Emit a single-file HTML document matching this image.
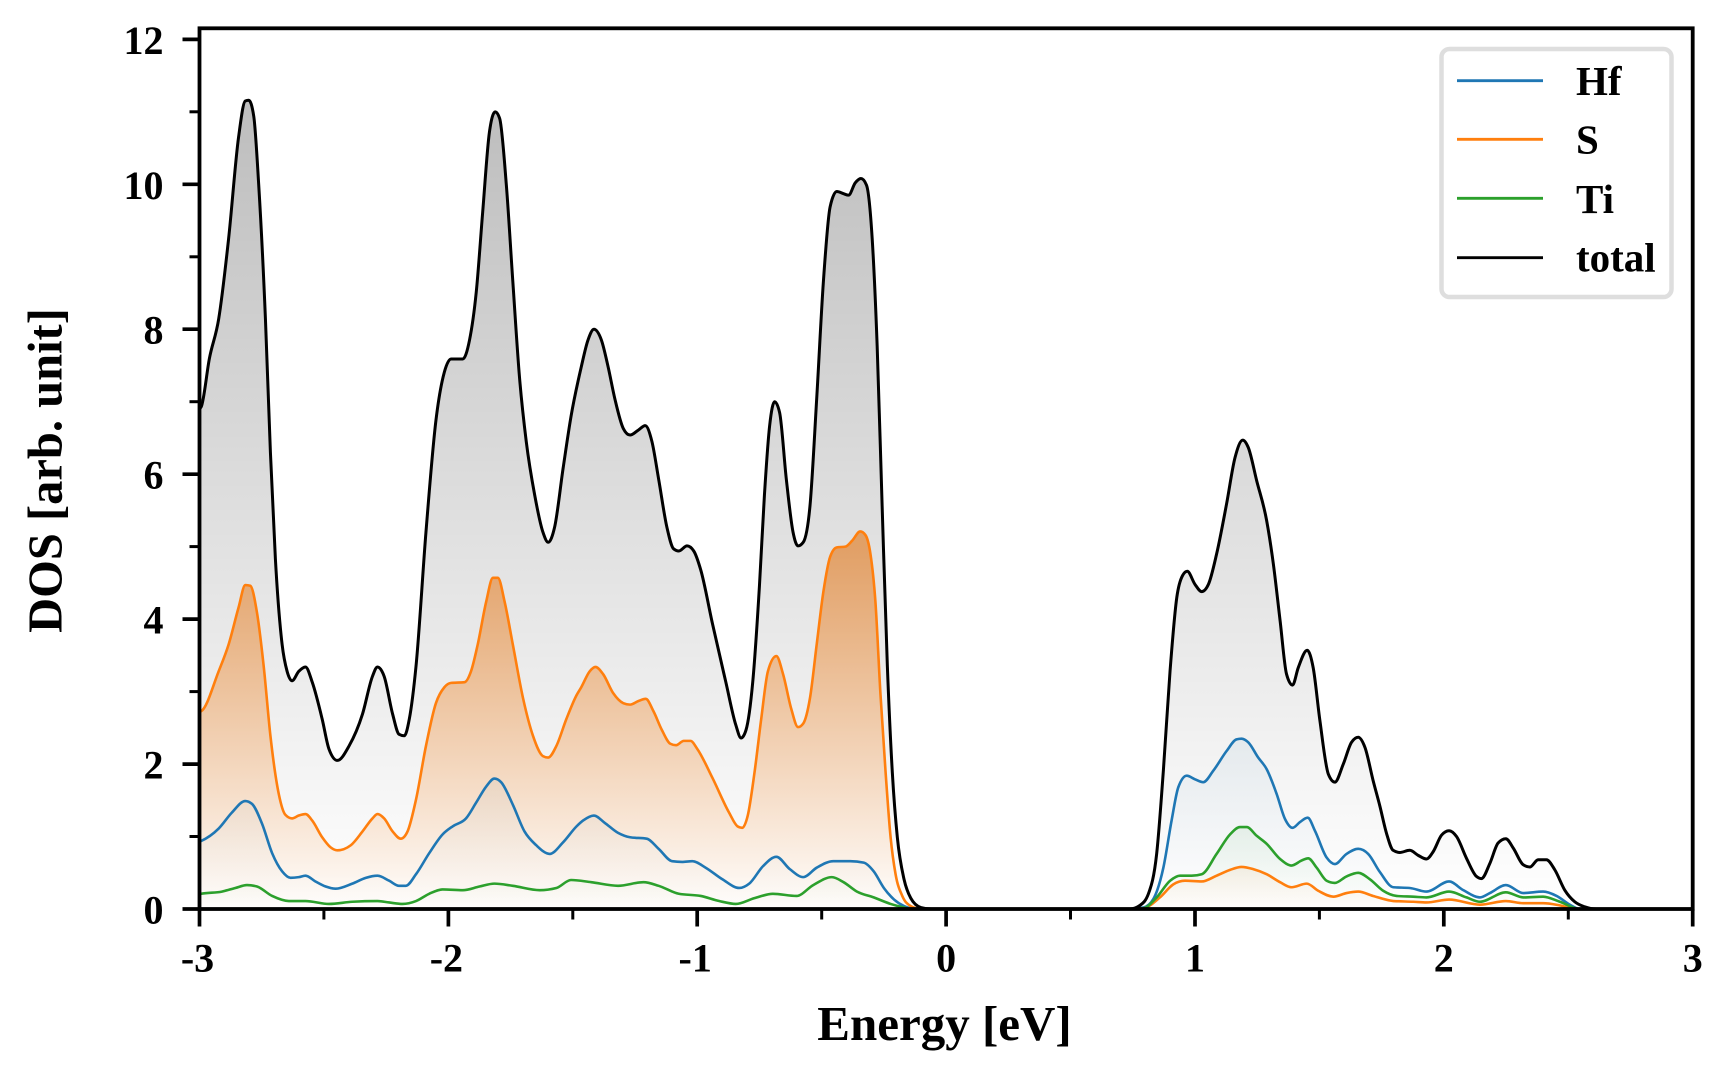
<!DOCTYPE html>
<html>
<head>
<meta charset="utf-8">
<style>
html,body{margin:0;padding:0;background:#fff;}
svg{display:block;}
text{font-family:"Liberation Serif","Times New Roman",serif;font-weight:bold;fill:#000;}
</style>
</head>
<body>
<svg width="1728" height="1080" viewBox="0 0 1728 1080" xmlns="http://www.w3.org/2000/svg">
<defs>
<linearGradient id="gT" gradientUnits="userSpaceOnUse" x1="0" y1="0" x2="0" y2="11">
<stop offset="0" stop-color="#000" stop-opacity="0"/>
<stop offset="1" stop-color="#000" stop-opacity="0.255"/>
</linearGradient>
<linearGradient id="gS" gradientUnits="userSpaceOnUse" x1="0" y1="0" x2="0" y2="5">
<stop offset="0" stop-color="#ff7f0e" stop-opacity="0.01"/>
<stop offset="1" stop-color="#ff7f0e" stop-opacity="0.58"/>
</linearGradient>
<linearGradient id="gH" gradientUnits="userSpaceOnUse" x1="0" y1="0" x2="0" y2="2.35">
<stop offset="0" stop-color="#1f77b4" stop-opacity="0"/>
<stop offset="1" stop-color="#1f77b4" stop-opacity="0.06"/>
</linearGradient>
<linearGradient id="gG" gradientUnits="userSpaceOnUse" x1="0" y1="0" x2="0" y2="1.13">
<stop offset="0" stop-color="#2ca02c" stop-opacity="0"/>
<stop offset="1" stop-color="#2ca02c" stop-opacity="0.07"/>
</linearGradient>
</defs>

<rect x="0" y="0" width="1728" height="1080" fill="#fff"/>

<g transform="translate(946.1,909) scale(248.87,-72.47)">
<!-- partial fills -->
<path id="fS" fill="url(#gS)" d="M-3,0 -3,2.72 -2.993,2.73 -2.923,3.28 -2.883,3.65 -2.843,4.16 -2.816,4.47 -2.796,4.46 -2.769,4.09 -2.742,3.35 -2.715,2.39 -2.681,1.58 -2.655,1.3 -2.628,1.25 -2.601,1.29 -2.574,1.31 -2.547,1.22 -2.507,0.99 -2.473,0.85 -2.446,0.81 -2.392,0.88 -2.345,1.07 -2.305,1.25 -2.285,1.31 -2.258,1.25 -2.224,1.07 -2.191,0.97 -2.164,1.07 -2.13,1.51 -2.09,2.25 -2.05,2.84 -2.016,3.06 -1.989,3.12 -1.935,3.13 -1.909,3.28 -1.882,3.65 -1.848,4.24 -1.821,4.57 -1.801,4.57 -1.774,4.24 -1.741,3.65 -1.7,2.91 -1.66,2.39 -1.62,2.11 -1.599,2.09 -1.566,2.25 -1.526,2.62 -1.485,2.95 -1.466,3.06 -1.432,3.28 -1.409,3.34 -1.378,3.24 -1.338,2.98 -1.297,2.84 -1.27,2.82 -1.236,2.87 -1.207,2.9 -1.176,2.73 -1.142,2.47 -1.108,2.28 -1.085,2.26 -1.054,2.32 -1.027,2.32 -1,2.21 -0.939,1.81 -0.872,1.33 -0.838,1.14 -0.82,1.12 -0.797,1.29 -0.77,1.88 -0.743,2.62 -0.716,3.28 -0.682,3.49 -0.655,3.24 -0.622,2.76 -0.595,2.51 -0.574,2.56 -0.547,2.91 -0.52,3.65 -0.493,4.38 -0.466,4.86 -0.439,4.99 -0.405,5 -0.378,5.08 -0.345,5.21 -0.324,5.16 -0.304,4.9 -0.284,4.24 -0.264,2.98 -0.243,1.88 -0.223,0.99 -0.203,0.48 -0.176,0.18 -0.142,0.04 -0.1,0 0.74,0 0.792,0.01 0.859,0.16 0.913,0.34 0.96,0.39 1.027,0.38 1.087,0.46 1.141,0.54 1.187,0.58 1.234,0.55 1.288,0.48 1.342,0.37 1.388,0.3 1.449,0.35 1.496,0.25 1.556,0.17 1.609,0.22 1.656,0.24 1.716,0.18 1.797,0.11 1.877,0.1 1.93,0.09 2.021,0.13 2.145,0.06 2.249,0.11 2.319,0.08 2.399,0.08 2.466,0.05 2.533,0 3,0Z"/>
<path id="fH" fill="url(#gH)" d="M-3,0 -3,0.93 -2.993,0.94 -2.923,1.11 -2.87,1.33 -2.816,1.49 -2.789,1.45 -2.749,1.18 -2.708,0.77 -2.668,0.52 -2.634,0.43 -2.601,0.44 -2.574,0.46 -2.534,0.38 -2.493,0.31 -2.453,0.28 -2.386,0.35 -2.332,0.43 -2.285,0.46 -2.238,0.39 -2.198,0.32 -2.171,0.32 -2.13,0.48 -2.077,0.77 -2.023,1.03 -1.983,1.14 -1.929,1.25 -1.888,1.47 -1.848,1.69 -1.815,1.8 -1.788,1.75 -1.741,1.44 -1.694,1.07 -1.647,0.88 -1.593,0.76 -1.539,0.92 -1.485,1.14 -1.459,1.22 -1.415,1.29 -1.372,1.19 -1.318,1.05 -1.27,0.99 -1.203,0.97 -1.155,0.83 -1.101,0.66 -1.061,0.65 -1.02,0.66 -0.966,0.57 -0.899,0.41 -0.831,0.29 -0.791,0.35 -0.736,0.59 -0.682,0.72 -0.628,0.55 -0.574,0.44 -0.52,0.57 -0.453,0.66 -0.385,0.66 -0.331,0.64 -0.291,0.52 -0.25,0.29 -0.209,0.13 -0.169,0.04 -0.12,0 0.739,0 0.792,0.02 0.833,0.14 0.873,0.57 0.906,1.22 0.933,1.68 0.967,1.84 1,1.79 1.033,1.75 1.074,1.91 1.127,2.18 1.167,2.34 1.187,2.35 1.214,2.3 1.254,2.09 1.288,1.93 1.328,1.59 1.362,1.24 1.392,1.12 1.422,1.2 1.453,1.26 1.482,1.08 1.529,0.71 1.562,0.62 1.609,0.76 1.656,0.83 1.696,0.76 1.743,0.51 1.797,0.3 1.863,0.29 1.93,0.24 2.021,0.38 2.078,0.26 2.145,0.16 2.185,0.22 2.249,0.33 2.319,0.22 2.399,0.24 2.453,0.18 2.506,0.06 2.546,0 3,0Z"/>
<path id="fG" fill="url(#gG)" d="M-3,0 -3,0.2 -2.993,0.21 -2.91,0.24 -2.856,0.29 -2.809,0.33 -2.769,0.31 -2.708,0.18 -2.641,0.11 -2.574,0.11 -2.48,0.07 -2.386,0.1 -2.285,0.11 -2.238,0.09 -2.184,0.07 -2.13,0.11 -2.077,0.21 -2.023,0.27 -1.942,0.26 -1.875,0.31 -1.815,0.35 -1.741,0.32 -1.633,0.26 -1.566,0.29 -1.507,0.4 -1.426,0.37 -1.318,0.32 -1.216,0.37 -1.155,0.32 -1.074,0.21 -0.986,0.18 -0.912,0.11 -0.845,0.07 -0.77,0.15 -0.696,0.21 -0.601,0.18 -0.534,0.33 -0.459,0.44 -0.412,0.37 -0.358,0.24 -0.291,0.16 -0.223,0.07 -0.169,0.02 -0.14,0 0.74,0 0.792,0.01 0.846,0.16 0.9,0.39 0.94,0.46 0.987,0.46 1.027,0.48 1.087,0.76 1.141,1.03 1.181,1.13 1.208,1.13 1.248,1.01 1.288,0.9 1.342,0.69 1.388,0.6 1.429,0.67 1.455,0.7 1.489,0.57 1.529,0.39 1.562,0.36 1.609,0.45 1.656,0.5 1.703,0.41 1.757,0.25 1.81,0.18 1.877,0.17 1.93,0.16 2.021,0.24 2.091,0.16 2.145,0.1 2.249,0.23 2.319,0.16 2.399,0.17 2.466,0.1 2.546,0 3,0Z"/>
<!-- total fill -->
<path id="fT" fill="url(#gT)" d="M-3,0 -3,6.9 -2.993,6.93 -2.96,7.6 -2.923,8.14 -2.883,9.25 -2.843,10.65 -2.816,11.15 -2.802,11.16 -2.782,10.94 -2.762,9.99 -2.735,8.14 -2.715,6.3 -2.695,4.83 -2.668,3.65 -2.648,3.28 -2.628,3.15 -2.601,3.28 -2.574,3.34 -2.547,3.13 -2.507,2.62 -2.48,2.21 -2.446,2.05 -2.399,2.25 -2.345,2.69 -2.305,3.21 -2.285,3.34 -2.258,3.21 -2.224,2.69 -2.198,2.41 -2.177,2.39 -2.157,2.62 -2.13,3.35 -2.09,5.2 -2.05,6.74 -2.016,7.41 -1.989,7.59 -1.942,7.59 -1.915,7.85 -1.888,8.51 -1.862,9.62 -1.835,10.72 -1.812,11 -1.794,10.91 -1.767,9.99 -1.741,8.66 -1.714,7.33 -1.687,6.45 -1.653,5.71 -1.62,5.2 -1.599,5.06 -1.573,5.27 -1.539,6.08 -1.507,6.8 -1.466,7.48 -1.439,7.85 -1.415,8 -1.385,7.85 -1.358,7.48 -1.331,7.04 -1.297,6.63 -1.27,6.54 -1.236,6.61 -1.209,6.67 -1.182,6.45 -1.155,5.93 -1.122,5.27 -1.095,4.97 -1.074,4.94 -1.041,5.01 -1.014,4.94 -0.986,4.68 -0.939,3.94 -0.885,3.13 -0.845,2.54 -0.824,2.36 -0.804,2.47 -0.777,3.13 -0.75,4.46 -0.73,5.71 -0.709,6.67 -0.689,7 -0.669,6.85 -0.642,5.93 -0.615,5.2 -0.595,5.01 -0.574,5.06 -0.547,5.56 -0.52,7.04 -0.493,8.66 -0.466,9.69 -0.439,9.9 -0.412,9.87 -0.392,9.85 -0.365,10.02 -0.342,10.08 -0.32,9.99 -0.297,9.25 -0.277,7.77 -0.257,5.56 -0.236,3.35 -0.216,1.88 -0.196,0.99 -0.169,0.41 -0.142,0.15 -0.101,0.02 -0.06,0 0.739,0 0.779,0.05 0.813,0.21 0.846,0.76 0.873,1.91 0.9,3.29 0.927,4.3 0.95,4.6 0.969,4.66 1,4.48 1.027,4.38 1.054,4.48 1.087,4.9 1.127,5.59 1.161,6.23 1.192,6.47 1.214,6.37 1.248,5.91 1.288,5.36 1.315,4.76 1.342,3.98 1.368,3.24 1.392,3.09 1.415,3.33 1.451,3.57 1.475,3.33 1.502,2.6 1.536,1.86 1.562,1.75 1.596,2 1.629,2.3 1.656,2.37 1.683,2.23 1.716,1.77 1.743,1.42 1.77,1.04 1.796,0.81 1.823,0.78 1.863,0.81 1.897,0.74 1.93,0.69 1.957,0.79 1.991,1.02 2.021,1.08 2.051,1 2.091,0.7 2.131,0.45 2.151,0.42 2.185,0.63 2.218,0.91 2.249,0.97 2.279,0.84 2.319,0.61 2.346,0.58 2.379,0.68 2.412,0.68 2.446,0.54 2.486,0.26 2.526,0.1 2.566,0.03 2.613,0 3,0Z"/>

<!-- lines -->
<g fill="none" stroke-linejoin="round" stroke-linecap="round">
<path id="lH" vector-effect="non-scaling-stroke" stroke="#1f77b4" stroke-width="2.6" d="M-3,0.93 -2.993,0.94 -2.923,1.11 -2.87,1.33 -2.816,1.49 -2.789,1.45 -2.749,1.18 -2.708,0.77 -2.668,0.52 -2.634,0.43 -2.601,0.44 -2.574,0.46 -2.534,0.38 -2.493,0.31 -2.453,0.28 -2.386,0.35 -2.332,0.43 -2.285,0.46 -2.238,0.39 -2.198,0.32 -2.171,0.32 -2.13,0.48 -2.077,0.77 -2.023,1.03 -1.983,1.14 -1.929,1.25 -1.888,1.47 -1.848,1.69 -1.815,1.8 -1.788,1.75 -1.741,1.44 -1.694,1.07 -1.647,0.88 -1.593,0.76 -1.539,0.92 -1.485,1.14 -1.459,1.22 -1.415,1.29 -1.372,1.19 -1.318,1.05 -1.27,0.99 -1.203,0.97 -1.155,0.83 -1.101,0.66 -1.061,0.65 -1.02,0.66 -0.966,0.57 -0.899,0.41 -0.831,0.29 -0.791,0.35 -0.736,0.59 -0.682,0.72 -0.628,0.55 -0.574,0.44 -0.52,0.57 -0.453,0.66 -0.385,0.66 -0.331,0.64 -0.291,0.52 -0.25,0.29 -0.209,0.13 -0.169,0.04 -0.12,0 0.739,0 0.792,0.02 0.833,0.14 0.873,0.57 0.906,1.22 0.933,1.68 0.967,1.84 1,1.79 1.033,1.75 1.074,1.91 1.127,2.18 1.167,2.34 1.187,2.35 1.214,2.3 1.254,2.09 1.288,1.93 1.328,1.59 1.362,1.24 1.392,1.12 1.422,1.2 1.453,1.26 1.482,1.08 1.529,0.71 1.562,0.62 1.609,0.76 1.656,0.83 1.696,0.76 1.743,0.51 1.797,0.3 1.863,0.29 1.93,0.24 2.021,0.38 2.078,0.26 2.145,0.16 2.185,0.22 2.249,0.33 2.319,0.22 2.399,0.24 2.453,0.18 2.506,0.06 2.546,0 3,0"/>
<path id="lS" vector-effect="non-scaling-stroke" stroke="#ff7f0e" stroke-width="2.6" d="M-3,2.72 -2.993,2.73 -2.923,3.28 -2.883,3.65 -2.843,4.16 -2.816,4.47 -2.796,4.46 -2.769,4.09 -2.742,3.35 -2.715,2.39 -2.681,1.58 -2.655,1.3 -2.628,1.25 -2.601,1.29 -2.574,1.31 -2.547,1.22 -2.507,0.99 -2.473,0.85 -2.446,0.81 -2.392,0.88 -2.345,1.07 -2.305,1.25 -2.285,1.31 -2.258,1.25 -2.224,1.07 -2.191,0.97 -2.164,1.07 -2.13,1.51 -2.09,2.25 -2.05,2.84 -2.016,3.06 -1.989,3.12 -1.935,3.13 -1.909,3.28 -1.882,3.65 -1.848,4.24 -1.821,4.57 -1.801,4.57 -1.774,4.24 -1.741,3.65 -1.7,2.91 -1.66,2.39 -1.62,2.11 -1.599,2.09 -1.566,2.25 -1.526,2.62 -1.485,2.95 -1.466,3.06 -1.432,3.28 -1.409,3.34 -1.378,3.24 -1.338,2.98 -1.297,2.84 -1.27,2.82 -1.236,2.87 -1.207,2.9 -1.176,2.73 -1.142,2.47 -1.108,2.28 -1.085,2.26 -1.054,2.32 -1.027,2.32 -1,2.21 -0.939,1.81 -0.872,1.33 -0.838,1.14 -0.82,1.12 -0.797,1.29 -0.77,1.88 -0.743,2.62 -0.716,3.28 -0.682,3.49 -0.655,3.24 -0.622,2.76 -0.595,2.51 -0.574,2.56 -0.547,2.91 -0.52,3.65 -0.493,4.38 -0.466,4.86 -0.439,4.99 -0.405,5 -0.378,5.08 -0.345,5.21 -0.324,5.16 -0.304,4.9 -0.284,4.24 -0.264,2.98 -0.243,1.88 -0.223,0.99 -0.203,0.48 -0.176,0.18 -0.142,0.04 -0.1,0 0.74,0 0.792,0.01 0.859,0.16 0.913,0.34 0.96,0.39 1.027,0.38 1.087,0.46 1.141,0.54 1.187,0.58 1.234,0.55 1.288,0.48 1.342,0.37 1.388,0.3 1.449,0.35 1.496,0.25 1.556,0.17 1.609,0.22 1.656,0.24 1.716,0.18 1.797,0.11 1.877,0.1 1.93,0.09 2.021,0.13 2.145,0.06 2.249,0.11 2.319,0.08 2.399,0.08 2.466,0.05 2.533,0 3,0"/>
<path id="lG" vector-effect="non-scaling-stroke" stroke="#2ca02c" stroke-width="2.6" d="M-3,0.2 -2.993,0.21 -2.91,0.24 -2.856,0.29 -2.809,0.33 -2.769,0.31 -2.708,0.18 -2.641,0.11 -2.574,0.11 -2.48,0.07 -2.386,0.1 -2.285,0.11 -2.238,0.09 -2.184,0.07 -2.13,0.11 -2.077,0.21 -2.023,0.27 -1.942,0.26 -1.875,0.31 -1.815,0.35 -1.741,0.32 -1.633,0.26 -1.566,0.29 -1.507,0.4 -1.426,0.37 -1.318,0.32 -1.216,0.37 -1.155,0.32 -1.074,0.21 -0.986,0.18 -0.912,0.11 -0.845,0.07 -0.77,0.15 -0.696,0.21 -0.601,0.18 -0.534,0.33 -0.459,0.44 -0.412,0.37 -0.358,0.24 -0.291,0.16 -0.223,0.07 -0.169,0.02 -0.14,0 0.74,0 0.792,0.01 0.846,0.16 0.9,0.39 0.94,0.46 0.987,0.46 1.027,0.48 1.087,0.76 1.141,1.03 1.181,1.13 1.208,1.13 1.248,1.01 1.288,0.9 1.342,0.69 1.388,0.6 1.429,0.67 1.455,0.7 1.489,0.57 1.529,0.39 1.562,0.36 1.609,0.45 1.656,0.5 1.703,0.41 1.757,0.25 1.81,0.18 1.877,0.17 1.93,0.16 2.021,0.24 2.091,0.16 2.145,0.1 2.249,0.23 2.319,0.16 2.399,0.17 2.466,0.1 2.546,0 3,0"/>
<path id="lT" vector-effect="non-scaling-stroke" stroke="#000" stroke-width="3" d="M-3,6.9 -2.993,6.93 -2.96,7.6 -2.923,8.14 -2.883,9.25 -2.843,10.65 -2.816,11.15 -2.802,11.16 -2.782,10.94 -2.762,9.99 -2.735,8.14 -2.715,6.3 -2.695,4.83 -2.668,3.65 -2.648,3.28 -2.628,3.15 -2.601,3.28 -2.574,3.34 -2.547,3.13 -2.507,2.62 -2.48,2.21 -2.446,2.05 -2.399,2.25 -2.345,2.69 -2.305,3.21 -2.285,3.34 -2.258,3.21 -2.224,2.69 -2.198,2.41 -2.177,2.39 -2.157,2.62 -2.13,3.35 -2.09,5.2 -2.05,6.74 -2.016,7.41 -1.989,7.59 -1.942,7.59 -1.915,7.85 -1.888,8.51 -1.862,9.62 -1.835,10.72 -1.812,11 -1.794,10.91 -1.767,9.99 -1.741,8.66 -1.714,7.33 -1.687,6.45 -1.653,5.71 -1.62,5.2 -1.599,5.06 -1.573,5.27 -1.539,6.08 -1.507,6.8 -1.466,7.48 -1.439,7.85 -1.415,8 -1.385,7.85 -1.358,7.48 -1.331,7.04 -1.297,6.63 -1.27,6.54 -1.236,6.61 -1.209,6.67 -1.182,6.45 -1.155,5.93 -1.122,5.27 -1.095,4.97 -1.074,4.94 -1.041,5.01 -1.014,4.94 -0.986,4.68 -0.939,3.94 -0.885,3.13 -0.845,2.54 -0.824,2.36 -0.804,2.47 -0.777,3.13 -0.75,4.46 -0.73,5.71 -0.709,6.67 -0.689,7 -0.669,6.85 -0.642,5.93 -0.615,5.2 -0.595,5.01 -0.574,5.06 -0.547,5.56 -0.52,7.04 -0.493,8.66 -0.466,9.69 -0.439,9.9 -0.412,9.87 -0.392,9.85 -0.365,10.02 -0.342,10.08 -0.32,9.99 -0.297,9.25 -0.277,7.77 -0.257,5.56 -0.236,3.35 -0.216,1.88 -0.196,0.99 -0.169,0.41 -0.142,0.15 -0.101,0.02 -0.06,0 0.739,0 0.779,0.05 0.813,0.21 0.846,0.76 0.873,1.91 0.9,3.29 0.927,4.3 0.95,4.6 0.969,4.66 1,4.48 1.027,4.38 1.054,4.48 1.087,4.9 1.127,5.59 1.161,6.23 1.192,6.47 1.214,6.37 1.248,5.91 1.288,5.36 1.315,4.76 1.342,3.98 1.368,3.24 1.392,3.09 1.415,3.33 1.451,3.57 1.475,3.33 1.502,2.6 1.536,1.86 1.562,1.75 1.596,2 1.629,2.3 1.656,2.37 1.683,2.23 1.716,1.77 1.743,1.42 1.77,1.04 1.796,0.81 1.823,0.78 1.863,0.81 1.897,0.74 1.93,0.69 1.957,0.79 1.991,1.02 2.021,1.08 2.051,1 2.091,0.7 2.131,0.45 2.151,0.42 2.185,0.63 2.218,0.91 2.249,0.97 2.279,0.84 2.319,0.61 2.346,0.58 2.379,0.68 2.412,0.68 2.446,0.54 2.486,0.26 2.526,0.1 2.566,0.03 2.613,0 3,0"/>
</g>
</g>

<!-- spines -->
<rect x="199.5" y="28.3" width="1493.2" height="880.7" fill="none" stroke="#000" stroke-width="3.8"/>

<!-- y ticks -->
<g stroke="#000" stroke-width="3.7">
<line x1="182.5" y1="909" x2="199.5" y2="909"/>
<line x1="182.5" y1="764.1" x2="199.5" y2="764.1"/>
<line x1="182.5" y1="619.1" x2="199.5" y2="619.1"/>
<line x1="182.5" y1="474.2" x2="199.5" y2="474.2"/>
<line x1="182.5" y1="329.2" x2="199.5" y2="329.2"/>
<line x1="182.5" y1="184.3" x2="199.5" y2="184.3"/>
<line x1="182.5" y1="39.4" x2="199.5" y2="39.4"/>
</g>
<g stroke="#000" stroke-width="3">
<line x1="189.5" y1="836.5" x2="199.5" y2="836.5"/>
<line x1="189.5" y1="691.6" x2="199.5" y2="691.6"/>
<line x1="189.5" y1="546.6" x2="199.5" y2="546.6"/>
<line x1="189.5" y1="401.7" x2="199.5" y2="401.7"/>
<line x1="189.5" y1="256.8" x2="199.5" y2="256.8"/>
<line x1="189.5" y1="111.8" x2="199.5" y2="111.8"/>
</g>
<!-- x ticks -->
<g stroke="#000" stroke-width="3.7">
<line x1="199.5" y1="909" x2="199.5" y2="926.5"/>
<line x1="448.4" y1="909" x2="448.4" y2="926.5"/>
<line x1="697.2" y1="909" x2="697.2" y2="926.5"/>
<line x1="946.1" y1="909" x2="946.1" y2="926.5"/>
<line x1="1195" y1="909" x2="1195" y2="926.5"/>
<line x1="1443.8" y1="909" x2="1443.8" y2="926.5"/>
<line x1="1692.7" y1="909" x2="1692.7" y2="926.5"/>
</g>
<g stroke="#000" stroke-width="3">
<line x1="323.9" y1="909" x2="323.9" y2="919.5"/>
<line x1="572.8" y1="909" x2="572.8" y2="919.5"/>
<line x1="821.7" y1="909" x2="821.7" y2="919.5"/>
<line x1="1070.5" y1="909" x2="1070.5" y2="919.5"/>
<line x1="1319.4" y1="909" x2="1319.4" y2="919.5"/>
<line x1="1568.3" y1="909" x2="1568.3" y2="919.5"/>
</g>

<!-- y tick labels -->
<g font-size="40" text-anchor="end">
<text x="163.5" y="923.5">0</text>
<text x="163.5" y="778.6">2</text>
<text x="163.5" y="633.6">4</text>
<text x="163.5" y="488.7">6</text>
<text x="163.5" y="343.7">8</text>
<text x="163.5" y="198.8">10</text>
<text x="163.5" y="53.9">12</text>
</g>
<!-- x tick labels -->
<g font-size="40" text-anchor="middle">
<text x="197.5" y="971.5">-3</text>
<text x="446.4" y="971.5">-2</text>
<text x="695.2" y="971.5">-1</text>
<text x="946.1" y="971.5">0</text>
<text x="1195" y="971.5">1</text>
<text x="1443.8" y="971.5">2</text>
<text x="1692.7" y="971.5">3</text>
</g>

<!-- axis labels -->
<text x="944.5" y="1040" font-size="49" text-anchor="middle">Energy [eV]</text>
<text transform="translate(61.5,470.5) rotate(-90)" x="0" y="0" font-size="48.5" text-anchor="middle">DOS [arb. unit]</text>

<!-- legend -->
<rect x="1441.5" y="49" width="230" height="248" rx="8" ry="8" fill="#fff" fill-opacity="0.9" stroke="#dedede" stroke-width="4.5"/>
<g stroke-width="2.8">
<line x1="1457" y1="80.7" x2="1543" y2="80.7" stroke="#1f77b4"/>
<line x1="1457" y1="139.3" x2="1543" y2="139.3" stroke="#ff7f0e"/>
<line x1="1457" y1="198.3" x2="1543" y2="198.3" stroke="#2ca02c"/>
<line x1="1457" y1="257.7" x2="1543" y2="257.7" stroke="#000"/>
</g>
<g font-size="41">
<text x="1576" y="95">Hf</text>
<text x="1576" y="153.5">S</text>
<text x="1576" y="213">Ti</text>
<text x="1576" y="271.7">total</text>
</g>
</svg>
<script>
(function(){
try{
function sm(d){
  var a=d.replace(/[MLZC]/g,' ').trim().split(/[\s,]+/).map(Number);
  var x=[],y=[],i;
  for(i=0;i+1<a.length;i+=2){x.push(a[i]);y.push(a[i+1]);}
  var n=x.length,h=[],s=[],m=[];
  for(i=0;i<n-1;i++){h[i]=x[i+1]-x[i];s[i]=(y[i+1]-y[i])/h[i];}
  m[0]=s[0];m[n-1]=s[n-2];
  for(i=1;i<n-1;i++){
    var s0=s[i-1],s1=s[i];
    if(s0*s1<=0){m[i]=0;}
    else{
      var p=(s0*h[i]+s1*h[i-1])/(h[i-1]+h[i]);
      m[i]=(s0>0?1:-1)*Math.min(2*Math.abs(s0),2*Math.abs(s1),Math.abs(p));
    }
  }
  function f(v){return (Math.round(v*100000)/100000).toString();}
  var out='M'+f(x[0])+','+f(y[0]);
  for(i=0;i<n-1;i++){
    var dx=h[i]/3;
    out+='C'+f(x[i]+dx)+','+f(y[i]+m[i]*dx)+' '+f(x[i+1]-dx)+','+f(y[i+1]-m[i+1]*dx)+' '+f(x[i+1])+','+f(y[i+1]);
  }
  return out;
}
['H','S','G','T'].forEach(function(k){
  var L=document.getElementById('l'+k),F=document.getElementById('f'+k);
  var c=sm(L.getAttribute('d'));
  L.setAttribute('d',c);
  F.setAttribute('d','M-3,0 L'+c.slice(1)+' L3,0Z');
});
}catch(e){}
})();
</script>
</body>
</html>
